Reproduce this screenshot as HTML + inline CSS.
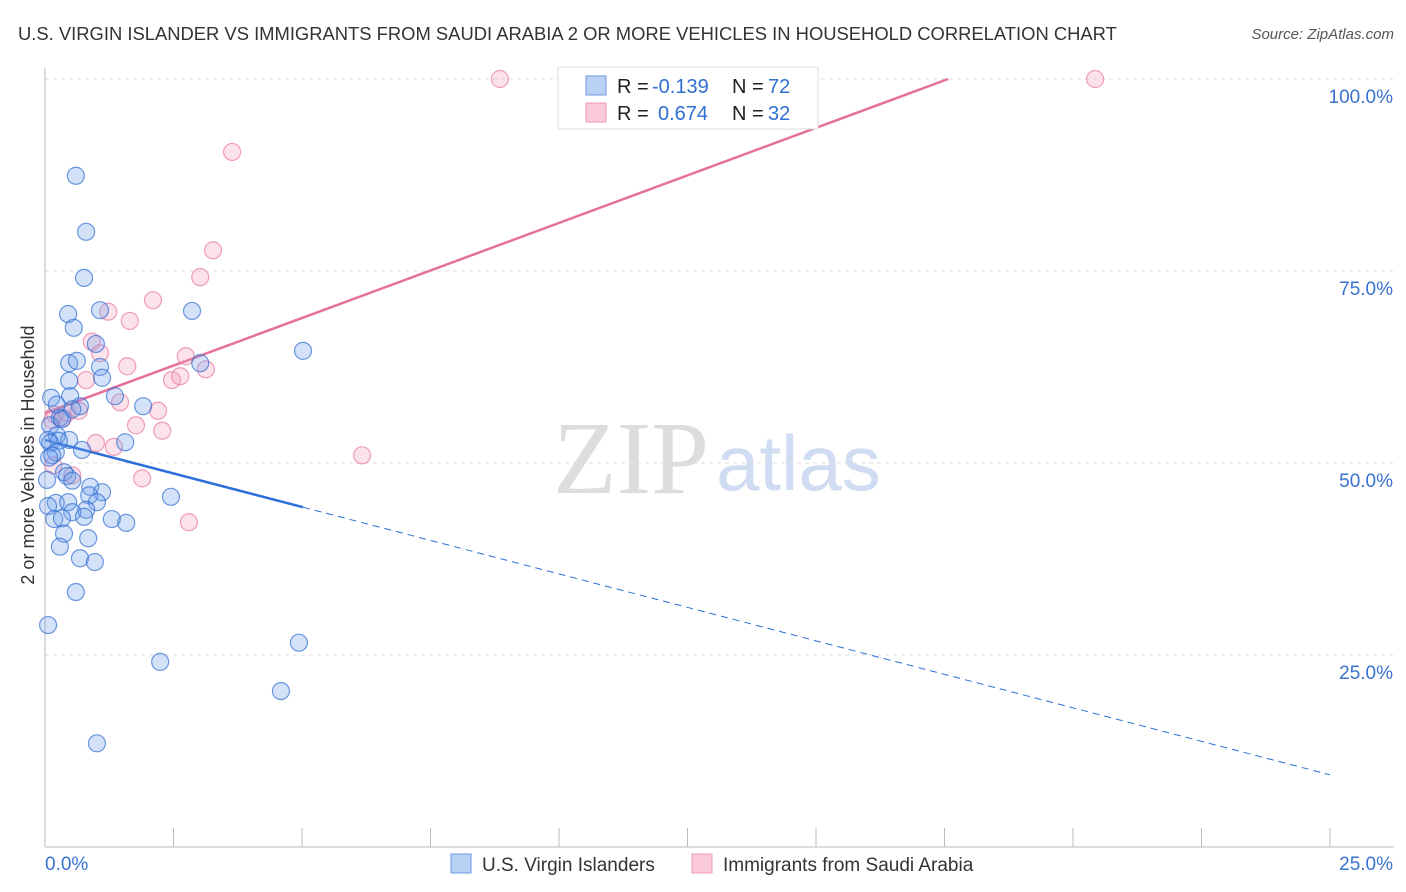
<!DOCTYPE html>
<html><head><meta charset="utf-8"><style>
body{margin:0;background:#fff;font-family:"Liberation Sans",sans-serif;}
svg{display:block}
</style></head><body>
<svg id="chart" width="1406" height="892">
<text x="18" y="40" font-size="18.4" fill="#333">U.S. VIRGIN ISLANDER VS IMMIGRANTS FROM SAUDI ARABIA 2 OR MORE VEHICLES IN HOUSEHOLD CORRELATION CHART</text>
<text x="1394" y="39" font-size="15" fill="#555" font-style="italic" text-anchor="end">Source: ZipAtlas.com</text>
<text x="553" y="493" font-size="104" fill="#ddd" font-family="Liberation Serif,serif">ZIP</text>
<text x="716" y="490" font-size="78" fill="#cfdcf2">atlas</text>
<text transform="translate(34,455) rotate(-90)" font-size="18" fill="#333" text-anchor="middle">2 or more Vehicles in Household</text>
<g id="grid"></g><g id="axes"></g><g id="lines"></g><g id="pts"></g>
<g>
<rect x="558" y="67" width="260" height="62" fill="#fff" stroke="#ddd"/>
<rect x="586" y="76" width="20" height="19" fill="#b9d1f5" stroke="#6a9be0"/>
<rect x="586" y="103" width="20" height="19" fill="#fbcbd9" stroke="#ef9ab6"/>
<g font-size="20" fill="#222"><text x="617" y="93">R =</text><text x="617" y="120">R =</text><text x="732" y="93">N =</text><text x="732" y="120">N =</text></g>
<g font-size="20" fill="#2f6fd0"><text x="652" y="93">-0.139</text><text x="658" y="120">0.674</text><text x="768" y="93">72</text><text x="768" y="120">32</text></g>
</g>
<g>
<rect x="451" y="854" width="20" height="19" fill="#b9d1f5" stroke="#6a9be0"/>
<text x="482" y="871" font-size="19" fill="#333">U.S. Virgin Islanders</text>
<rect x="692" y="854" width="20" height="19" fill="#fbcbd9" stroke="#ef9ab6"/>
<text x="723" y="871" font-size="19" fill="#333">Immigrants from Saudi Arabia</text>
</g>
</svg>
<script>
const blueX=[0.60,0.80,0.76,0.45,1.07,2.86,0.56,0.99,5.02,3.02,0.47,0.62,1.07,1.11,0.47,0.49,0.12,1.36,0.23,1.91,0.68,0.53,0.29,0.10,0.33,0.23,1.56,0.47,0.06,0.27,0.10,0.72,0.21,0.14,0.08,0.04,0.37,0.43,0.53,0.88,1.11,0.86,2.45,0.21,0.45,1.01,0.06,0.80,0.53,0.76,1.30,1.58,0.18,0.33,0.84,0.37,0.29,0.68,0.97,0.60,0.06,4.94,2.24,4.59,1.01];
const blueY=[87.4,80.1,74.1,69.4,69.9,69.8,67.6,65.5,64.6,63.0,63.0,63.3,62.5,61.1,60.7,58.7,58.5,58.7,57.6,57.4,57.4,57.0,55.9,54.9,55.7,53.6,52.7,53.0,53.0,52.9,52.6,51.7,51.4,51.0,50.7,47.8,48.8,48.3,47.7,46.9,46.2,45.8,45.6,44.8,44.9,44.9,44.4,43.9,43.6,43.0,42.7,42.2,42.7,42.8,40.2,40.8,39.1,37.6,37.1,33.2,28.9,26.6,24.1,20.3,13.5];
const pinkX=[8.85,20.43,3.64,3.27,3.02,2.10,1.23,1.65,0.91,1.07,2.74,1.60,3.13,2.47,2.63,0.80,1.46,2.20,1.77,2.28,0.99,1.34,6.17,0.19,0.35,0.43,0.66,0.16,0.53,1.89,2.80,0.14];
const pinkY=[100,100,90.5,77.7,74.2,71.2,69.7,68.5,65.8,64.3,63.9,62.6,62.2,60.8,61.3,60.8,57.9,56.8,54.9,54.2,52.6,52.1,51.0,56.3,55.9,56.5,56.8,49.7,48.4,48.0,42.3,55.6];
const blueTrend=[53.0,9.4];
const blueSolidEnd=5.02;
const pinkTrend=[56.5,100];
const pinkTrendEndX=17.57;
const xTicks=[0,2.5,5,7.5,10,12.5,15,17.5,20,22.5,25];
const yTicks=[25,50,75,100];
const yTickLabels=["25.0%","50.0%","75.0%","100.0%"];

const NS="http://www.w3.org/2000/svg";
const X=v=>45+v*51.4, Y=v=>847-v*7.68;
function mk(tag,attrs,parent){const e=document.createElementNS(NS,tag);for(const k in attrs)e.setAttribute(k,attrs[k]);document.getElementById(parent).appendChild(e);return e;}
yTicks.forEach((t,i)=>{
 const g=mk('line',{x1:45,x2:1394,y1:Y(t),y2:Y(t),stroke:'#ddd','stroke-dasharray':'4,4'},'grid');
 
 
 const tx=mk('text',{x:1393,y:Y(t)+24,'font-size':19,fill:'#3a72d0','text-anchor':'end'},'axes');
 tx.textContent=yTickLabels[i];
 
 
});
const ax=mk('line',{x1:45,x2:45,y1:68,y2:847,stroke:'#bbb'},'axes');


const bx=mk('line',{x1:45,x2:1394,y1:847,y2:847,stroke:'#bbb'},'axes');


xTicks.forEach(t=>{
 const l=mk('line',{x1:X(t),x2:X(t),y1:828,y2:847,stroke:'#bbb'},'axes');
 
 
});
const x0=mk('text',{x:45,y:870,'font-size':19,fill:'#3a72d0'},'axes');x0.textContent='0.0%';


const x1=mk('text',{x:1393,y:870,'font-size':19,fill:'#3a72d0','text-anchor':'end'},'axes');x1.textContent='25.0%';


function pts(xs,ys,fill,stroke,name){xs.forEach((x,i)=>{
 const c=mk('circle',{cx:X(x),cy:Y(ys[i]),r:8.5,fill:fill,stroke:stroke,'stroke-width':1.2},'pts');
 
 
});}
pts(pinkX,pinkY,'rgba(245,160,190,0.3)','rgba(232,120,160,0.7)','saudi-point');
pts(blueX,blueY,'rgba(110,160,235,0.3)','rgba(50,110,210,0.7)','virgin-point');
const bY=x=>blueTrend[0]+(blueTrend[1]-blueTrend[0])*x/25;
const l1=mk('line',{x1:X(0),y1:Y(bY(0)),x2:X(blueSolidEnd),y2:Y(bY(blueSolidEnd)),stroke:'#2d6fd8','stroke-width':2.5},'lines');


const l2=mk('line',{x1:X(blueSolidEnd),y1:Y(bY(blueSolidEnd)),x2:X(25),y2:Y(bY(25)),stroke:'#2d6fd8','stroke-width':1,'stroke-dasharray':'7,5'},'lines');


const l3=mk('line',{x1:X(0),y1:Y(pinkTrend[0]),x2:X(pinkTrendEndX),y2:Y(pinkTrend[1]),stroke:'#e5709a','stroke-width':2.5},'lines');


</script>
</body></html>
